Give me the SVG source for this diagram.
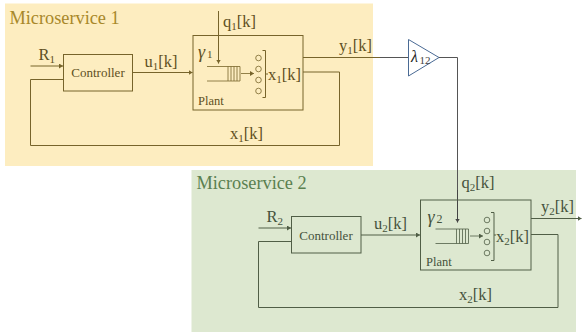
<svg xmlns="http://www.w3.org/2000/svg" width="582" height="333" viewBox="0 0 582 333">
<defs>
<marker id="a" markerWidth="6" markerHeight="6" refX="4" refY="2.500" orient="auto" markerUnits="userSpaceOnUse"><path d="M0 0L4 2.500L0 5z" fill="context-stroke" stroke="none"/></marker>
<g id="q"><path d="M0 0H33V14.500H0M21 0V14.500M24 0V14.500M27 0V14.500M30 0V14.500" fill="none"/></g>
</defs>
<style>
text{font-family:"Liberation Serif","Times New Roman",serif}
.t{font-size:16.500px}.s{font-size:11px}.h{font-size:18.300px}.c{font-size:13px}.p{font-size:12.500px}.g{font-size:18px;font-style:italic}
.l{fill:none;stroke-width:1}
.m1 .l,.m1 circle,.m1 use,.c1 path{stroke:#77642b}
.m1 text{fill:#5f5022}
.m2 .l,.m2 circle,.m2 use,.c2 path{stroke:#505e46}
.m2 text{fill:#45523c}
circle{fill:none;stroke-width:.8}
</style>
<rect id="panel1" x="5" y="3.500" width="368" height="162.500" fill="#fdedc0"/>
<rect id="panel2" x="191.500" y="170" width="384.500" height="162" fill="#dde8d0"/>
<text x="9.500" y="24" class="h" fill="#a8882a">Microservice 1</text>
<text x="196.500" y="189" class="h" fill="#5a8050">Microservice 2</text>

<g id="connectors" fill="none">
<g class="c1">
<path d="M30.500 66H63" marker-end="url(#a)"/>
<path d="M63 79.500H30.500V145.500H339.500V72H303"/>
<path d="M132.500 72.500H192.500" marker-end="url(#a)"/>
<path d="M218.500 11V63.500" marker-end="url(#a)"/>
<path d="M303 57.500H380"/>
<path d="M241 73.500H254" stroke-width=".8" marker-end="url(#a)"/>
</g>
<path d="M380 57.500H408" stroke="#555"/>
<path d="M439 57.500H457.500V190" stroke="#555"/>
<path d="M457.500 190V222.500" stroke="#444" marker-end="url(#a)"/>
<g class="c2">
<path d="M258.500 228H291" marker-end="url(#a)"/>
<path d="M291 241.500H258.500V307.500H558V234.500H531"/>
<path d="M361 235H420" marker-end="url(#a)"/>
<path d="M531 218.500H581.500" marker-end="url(#a)"/>
<path d="M470 236H483" stroke-width=".8" marker-end="url(#a)"/>
</g>
</g>

<g id="controller1" class="m1"><rect class="l" x="63.500" y="54.500" width="69" height="36.500"/><text x="98" y="77" class="c" text-anchor="middle">Controller</text></g>
<g id="plant1" class="m1">
<rect class="l" x="193" y="35.500" width="110" height="74.500"/>
<text x="198" y="58" class="g">γ</text><text x="207" y="58" class="s">1</text>
<use href="#q" x="207" y="66.500" stroke-width=".8"/>
<circle cx="258.500" cy="58" r="2.800"/><circle cx="258.500" cy="69" r="2.800"/><circle cx="258.500" cy="80" r="2.800"/><circle cx="258.500" cy="91" r="2.800"/>
<path class="l" d="M262.500 50.500H265.500V97.500H262.500M265.500 74H268" stroke-width=".6"/>
<text x="198" y="105" class="p">Plant</text>
<text x="268" y="80" class="t">x<tspan class="s" dy="3">1</tspan><tspan dy="-3">[k]</tspan></text>
</g>
<g id="labels1" class="m1">
<text x="38.500" y="60" class="t">R<tspan class="s" dy="3">1</tspan></text>
<text x="144.500" y="67" class="t">u<tspan class="s" dy="3">1</tspan><tspan dy="-3">[k]</tspan></text>
<text x="223" y="27" class="t">q<tspan class="s" dy="3">1</tspan><tspan dy="-3">[k]</tspan></text>
<text x="339" y="51" class="t">y<tspan class="s" dy="3">1</tspan><tspan dy="-3">[k]</tspan></text>
<text x="230" y="139" class="t">x<tspan class="s" dy="3">1</tspan><tspan dy="-3">[k]</tspan></text>
</g>

<g id="gain">
<path d="M408.500 39.500L439 57.500L408.500 76z" fill="#fff" stroke="#4a6a94"/>
<text x="411" y="62" font-size="16" font-style="italic" fill="#222">λ</text><text x="419.500" y="63.500" class="s" fill="#444">12</text>
</g>

<g id="controller2" class="m2"><rect class="l" x="291.500" y="216.500" width="69.500" height="36.500"/><text x="326" y="239.500" class="c" text-anchor="middle">Controller</text></g>
<g id="plant2" class="m2">
<rect class="l" x="420.500" y="200" width="110.500" height="70"/>
<text x="427.500" y="223" class="g">γ</text><text x="436.500" y="223" font-size="12">2</text>
<use href="#q" x="435.500" y="229" stroke-width=".8"/>
<circle cx="487" cy="220" r="2.800"/><circle cx="487" cy="231" r="2.800"/><circle cx="487" cy="242" r="2.800"/><circle cx="487" cy="253" r="2.800"/>
<path class="l" d="M491 212.500H494V260.500H491M494 235H496" stroke-width=".6"/>
<text x="426" y="266" class="p">Plant</text>
<text x="496" y="242" class="t">x<tspan class="s" dy="3">2</tspan><tspan dy="-3">[k]</tspan></text>
</g>
<g id="labels2" class="m2">
<text x="266.500" y="222" class="t">R<tspan class="s" dy="3">2</tspan></text>
<text x="374" y="229" class="t">u<tspan class="s" dy="3">2</tspan><tspan dy="-3">[k]</tspan></text>
<text x="461.500" y="188" class="t">q<tspan class="s" dy="3">2</tspan><tspan dy="-3">[k]</tspan></text>
<text x="541" y="212" class="t">y<tspan class="s" dy="3">2</tspan><tspan dy="-3">[k]</tspan></text>
<text x="459" y="300" class="t">x<tspan class="s" dy="3">2</tspan><tspan dy="-3">[k]</tspan></text>
</g>
</svg>
